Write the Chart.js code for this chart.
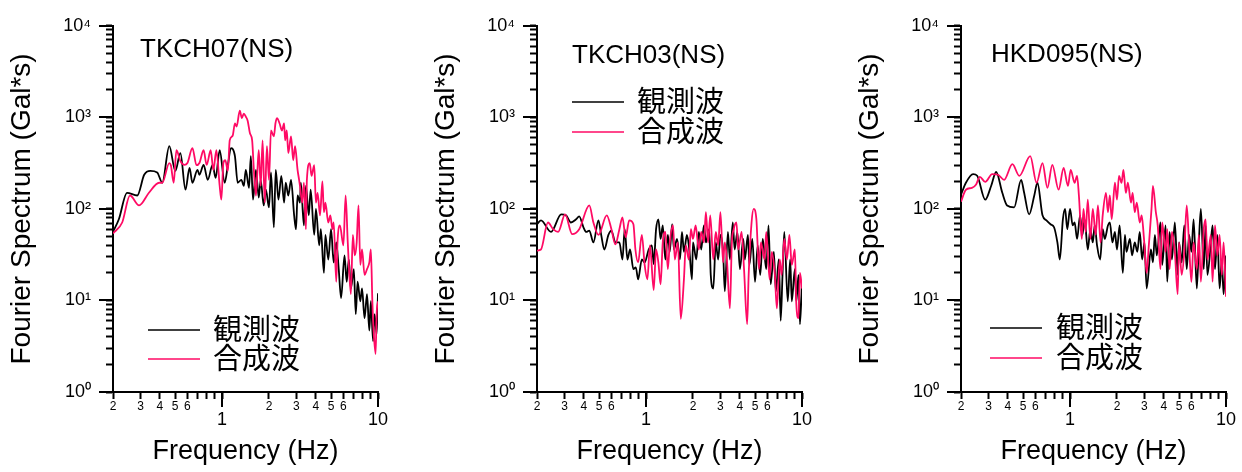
<!DOCTYPE html>
<html><head><meta charset="utf-8">
<script src="https://cdn.jsdelivr.net/npm/chart.js@4.4.1/dist/chart.umd.min.js"></script>
<style>
html,body{margin:0;padding:0;background:#fff;}
#wrap{position:relative;width:1242px;height:472px;overflow:hidden;background:#fff;}
canvas{position:absolute;top:0;}
</style></head><body><div id="wrap">
<canvas id="c0" width="414" height="472" style="left:0px"></canvas>
<canvas id="c1" width="414" height="472" style="left:424px"></canvas>
<canvas id="c2" width="414" height="472" style="left:848px"></canvas>
</div>
<script>
// ---- text ----
const panelTitles = ['TKCH07(NS)', 'TKCH03(NS)', 'HKD095(NS)'];
const seriesNames = ['観測波', '合成波'];
const xAxisTitle = 'Frequency (Hz)';
const yAxisTitle = 'Fourier Spectrum (Gal*s)';

// ---- ticks ----
const xTickValues = [0.2,0.3,0.4,0.5,0.6,0.7,0.8,0.9,1,2,3,4,5,6,7,8,9,10];
const xTickLabels = ['2','3','4','5','6','','','','1','2','3','4','5','6','','','','10'];
const xMajorValues = [1, 10];
const yTickValues = [1,2,3,4,5,6,7,8,9,10,20,30,40,50,60,70,80,90,100,200,300,400,500,600,700,800,900,1000,2000,3000,4000,5000,6000,7000,8000,9000,10000];
const yTickLabels = ['10⁰','','','','','','','','','10¹','','','','','','','','','10²','','','','','','','','','10³','','','','','','','','','10⁴'];
const yMajorValues = [1, 10, 100, 1000, 10000];

// ---- panel 1: TKCH07(NS) ----
const p1ObsF = [0.2,0.218,0.246,0.286,0.317,0.347,0.384,0.414,0.459,0.502,0.541,0.583,0.619,0.646,0.696,0.716,0.762,0.81,0.87,0.91,0.966,1.04,1.09,1.14,1.21,1.26,1.33,1.38,1.42,1.49,1.53,1.58,1.65,1.72,1.77,1.85,1.91,2.0,2.06,2.15,2.21,2.3,2.4,2.5,2.56,2.66,2.77,2.9,2.98,3.05,3.16,3.2,3.35,3.45,3.6,3.7,3.9,4.0,4.2,4.3,4.5,4.6,4.8,5.0,5.2,5.4,5.6,5.8,6.1,6.3,6.5,6.7,7.0,7.2,7.4,7.7,7.9,8.2,8.5,8.8,9.0,9.3,9.5,9.8,10];
const p1ObsV = [56,77,150,140,236,260,250,193,484,260,407,162,280,193,267,236,302,208,302,218,437,193,300,460,377,193,208,178,267,170,377,126,267,133,208,109,162,104,250,63,267,126,230,117,193,140,208,85,60,140,117,193,66,178,85,162,52,100,40,60,20,52,28,60,26,43,22,10.6,31,16,28,13.5,22,7.1,16,9.8,13.5,6.4,11.7,4.7,9.8,3.6,7.1,4.3,12];
const p1SynF = [0.2,0.229,0.257,0.294,0.34,0.395,0.414,0.459,0.47,0.49,0.51,0.541,0.575,0.6,0.646,0.686,0.716,0.762,0.797,0.846,0.88,0.92,0.966,0.99,1.02,1.05,1.09,1.12,1.17,1.21,1.24,1.3,1.34,1.38,1.42,1.46,1.51,1.56,1.6,1.65,1.68,1.72,1.77,1.82,1.88,1.94,2.0,2.06,2.15,2.2,2.25,2.34,2.42,2.5,2.54,2.6,2.66,2.77,2.86,2.94,3.05,3.12,3.16,3.27,3.35,3.45,3.5,3.65,3.75,3.9,4.0,4.1,4.25,4.4,4.5,4.6,4.8,4.95,5.1,5.2,5.4,5.5,5.7,6.0,6.2,6.4,6.7,6.9,7.1,7.3,7.5,7.7,7.9,8.2,8.5,8.8,9.0,9.2,9.4,9.65,9.8,10];
const p1SynV = [54,71,140,109,150,193,193,317,300,193,437,333,302,317,460,300,317,437,302,437,267,437,178,126,317,340,260,561,630,857,794,1183,980,1100,1020,920,670,561,267,140,230,437,178,561,117,484,208,718,620,857,980,857,718,857,561,718,407,620,340,484,267,208,178,117,193,60,208,317,230,300,117,150,85,200,92,117,71,85,60,71,16,43,66,40,140,43,11.7,52,31,43,109,24.5,36,19,22,26,36,9.8,4.3,2.6,7.1,9.8];

// ---- panel 2: TKCH03(NS) ----
const p2ObsF = [0.2,0.212,0.246,0.286,0.307,0.33,0.356,0.373,0.397,0.414,0.433,0.46,0.495,0.516,0.54,0.574,0.6,0.636,0.675,0.706,0.73,0.76,0.79,0.83,0.86,0.89,0.94,0.98,1.04,1.09,1.12,1.16,1.2,1.24,1.28,1.33,1.38,1.42,1.47,1.51,1.58,1.65,1.7,1.75,1.83,1.9,1.97,2.0,2.1,2.18,2.26,2.35,2.42,2.54,2.6,2.7,2.8,2.9,3.0,3.12,3.2,3.35,3.45,3.6,3.7,3.85,4.0,4.2,4.3,4.5,4.6,4.8,5.0,5.2,5.4,5.6,5.9,6.1,6.3,6.6,6.8,7.1,7.3,7.5,7.7,8.1,8.4,8.6,9.0,9.2,9.5,9.7,10];
const p2ObsV = [68,75,56,87,85,71,77,83,63,56,58,43,75,52,36,52,58,43,43,28,60,28,36,22,23,17,28,26,36,40,25,60,77,47,66,28,52,34,68,36,47,28,56,34,52,34,17,43,28,56,36,66,43,60,19,13.5,43,28,52,34,12.6,56,28,71,36,56,22,47,28,52,24.5,47,16,40,19,47,22,66,15,34,12.6,28,6.0,19,56,9.8,28,9.8,22,9.8,19,5.5,16];
const p2SynF = [0.2,0.212,0.235,0.254,0.273,0.303,0.336,0.373,0.433,0.46,0.495,0.56,0.6,0.636,0.675,0.706,0.74,0.78,0.83,0.855,0.89,0.94,0.98,1.02,1.06,1.12,1.16,1.2,1.24,1.28,1.33,1.38,1.42,1.49,1.53,1.6,1.67,1.75,1.8,1.88,1.94,2.0,2.08,2.18,2.26,2.35,2.42,2.5,2.58,2.7,2.8,2.9,3.0,3.12,3.2,3.3,3.45,3.55,3.65,3.8,3.9,4.1,4.25,4.45,4.55,4.75,4.9,5.1,5.3,5.45,5.75,5.9,6.2,6.4,6.7,6.9,7.2,7.4,7.7,8.0,8.3,8.6,9.0,9.2,9.5,9.7,10];
const p2SynV = [35,36,71,60,56,87,53,60,109,71,52,85,60,41,60,81,49,75,68,36,26,52,24.5,17,40,13,36,26,15,43,56,22,43,66,28,43,6.3,17,40,28,60,47,66,36,56,43,92,43,85,28,56,40,92,26,43,28,8.2,43,60,71,36,56,22,5.5,19,71,100,77,22,43,28,56,17,34,19,8.2,28,19,47,28,52,24.5,36,9,6.4,20,13.5];

// ---- panel 3: HKD095(NS) ----
const p3ObsF = [0.2,0.215,0.239,0.254,0.286,0.312,0.336,0.368,0.395,0.438,0.486,0.508,0.547,0.59,0.618,0.666,0.706,0.75,0.79,0.83,0.86,0.9,0.93,0.96,1.0,1.04,1.07,1.11,1.16,1.2,1.24,1.3,1.35,1.4,1.44,1.49,1.56,1.62,1.67,1.75,1.8,1.87,1.94,2.0,2.08,2.18,2.25,2.3,2.42,2.5,2.6,2.7,2.8,2.9,3.0,3.1,3.3,3.4,3.5,3.6,3.8,3.9,4.1,4.2,4.35,4.5,4.7,4.9,5.0,5.2,5.4,5.6,5.8,6.0,6.2,6.5,6.7,6.9,7.2,7.4,7.6,8.0,8.2,8.5,8.8,9.1,9.4,9.65,10];
const p3ObsV = [143,193,240,230,126,178,253,150,109,104,208,150,87,140,193,85,75,68,63,43,28,77,100,60,100,66,71,47,85,52,77,36,60,43,66,40,28,60,47,66,71,43,56,36,66,20,52,34,47,31,43,34,56,28,43,13.5,36,26,52,31,71,24.5,66,16,56,28,71,19,43,26,66,22,52,34,77,13.5,43,100,22,66,19,43,66,22,52,13.5,28,11.7,31];
const p3SynF = [0.2,0.215,0.235,0.25,0.264,0.286,0.317,0.346,0.378,0.427,0.473,0.556,0.61,0.666,0.716,0.77,0.845,0.91,0.97,1.01,1.07,1.11,1.14,1.19,1.22,1.26,1.3,1.35,1.4,1.46,1.51,1.57,1.62,1.7,1.75,1.8,1.85,1.94,2.0,2.06,2.14,2.2,2.28,2.35,2.46,2.52,2.6,2.68,2.8,2.88,2.98,3.1,3.2,3.33,3.4,3.55,3.65,3.8,3.9,4.1,4.2,4.35,4.5,4.7,4.9,5.0,5.2,5.4,5.6,5.8,6.0,6.2,6.5,6.7,6.9,7.2,7.4,7.6,8.0,8.2,8.5,8.8,9.1,9.4,9.65,10];
const p3SynV = [120,162,170,185,224,197,240,236,208,308,230,377,193,317,170,302,162,280,178,267,193,230,140,47,100,56,126,47,100,52,109,43,85,150,92,140,77,193,126,230,193,267,150,193,117,150,92,117,71,85,47,20,40,100,178,92,66,22,71,34,60,22,56,34,11.7,43,19,34,109,40,16,43,22,52,16,60,77,28,52,16,66,31,52,19,43,11];

// ---- styling / layout (not data) ----
const obsColor = '#000000';
const synColor = '#ff0a64';
const latin = '"Liberation Sans", Arial, sans-serif';
const cjk = '"Noto Sans CJK JP", "Noto Sans CJK SC", sans-serif';
const titlePos = [{x: 140, y: 50}, {x: 148, y: 56}, {x: 143, y: 55}];
const legendPos = [{lx: 148, y1: 330, y2: 359, tx: 213}, {lx: 148, y1: 102, y2: 132, tx: 213}, {lx: 142, y1: 328, y2: 358, tx: 208}];

Chart.defaults.font.family = latin;
Chart.defaults.color = '#000';

const panels = [
  {obsF: p1ObsF, obsV: p1ObsV, synF: p1SynF, synV: p1SynV},
  {obsF: p2ObsF, obsV: p2ObsV, synF: p2SynF, synV: p2SynV},
  {obsF: p3ObsF, obsV: p3ObsV, synF: p3SynF, synV: p3SynV}
];

const toPoints = (f, v) => f.map((x, i) => ({x: x, y: v[i]}));

const decoPlugin = {
  id: 'deco',
  afterDraw(chart) {
    const idx = chart.options.plugins.deco.index;
    const ctx = chart.ctx, a = chart.chartArea;
    const xs = chart.scales.x, ys = chart.scales.y;
    ctx.save();
    // longer major tick marks
    ctx.strokeStyle = '#000';
    ctx.lineWidth = 2;
    ctx.beginPath();
    xMajorValues.forEach(v => {
      const p = Math.round(xs.getPixelForValue(v));
      ctx.moveTo(p, a.bottom); ctx.lineTo(p, a.bottom + 15);
    });
    yMajorValues.forEach(v => {
      const p = Math.round(ys.getPixelForValue(v));
      ctx.moveTo(a.left, p); ctx.lineTo(a.left - 14, p);
    });
    ctx.stroke();
    // panel title
    const tp = titlePos[idx];
    ctx.fillStyle = '#000';
    ctx.font = '26px ' + latin;
    ctx.textAlign = 'left';
    ctx.textBaseline = 'middle';
    ctx.fillText(panelTitles[idx], tp.x, tp.y);
    // legend
    const lp = legendPos[idx];
    const rows = [lp.y1, lp.y2];
    chart.data.datasets.slice().sort((d1, d2) => d1.legendIndex - d2.legendIndex).forEach((ds, r) => {
      ctx.strokeStyle = ds.borderColor;
      ctx.lineWidth = 1.6;
      ctx.beginPath();
      ctx.moveTo(lp.lx, rows[r]); ctx.lineTo(lp.lx + 52, rows[r]);
      ctx.stroke();
      ctx.fillStyle = '#000';
      ctx.font = '29px ' + cjk;
      ctx.fillText(ds.label, lp.tx, rows[r] - 1.5);
    });
    ctx.restore();
  }
};

panels.forEach((p, idx) => {
  new Chart(document.getElementById('c' + idx), {
    type: 'line',
    data: {
      datasets: [
        {label: seriesNames[1], legendIndex: 1, data: toPoints(p.synF, p.synV), borderColor: synColor, borderWidth: 1.8, pointRadius: 0, cubicInterpolationMode: 'monotone', order: 0},
        {label: seriesNames[0], legendIndex: 0, data: toPoints(p.obsF, p.obsV), borderColor: obsColor, borderWidth: 1.8, pointRadius: 0, cubicInterpolationMode: 'monotone', order: 1}
      ]
    },
    options: {
      responsive: false,
      animation: false,
      devicePixelRatio: 1,
      layout: {padding: {left: 0, right: 36, top: 21, bottom: 0}},
      plugins: {legend: {display: false}, tooltip: {enabled: false}, deco: {index: idx}},
      scales: {
        x: {
          type: 'logarithmic', min: 0.2, max: 10, position: 'bottom',
          afterBuildTicks: s => { s.ticks = xTickValues.map(v => ({value: v})); },
          afterFit: s => { s.height = 80; },
          grid: {drawOnChartArea: false, drawTicks: true, tickLength: 7, tickWidth: 2, tickColor: '#000'},
          border: {display: true, color: '#000', width: 2},
          ticks: {
            autoSkip: false, maxRotation: 0, minRotation: 0, padding: 2, color: '#000',
            callback: (v, i) => xMajorValues.includes(xTickValues[i]) ? ['', xTickLabels[i]] : xTickLabels[i],
            font: c => (c.tick && xMajorValues.includes(c.tick.value)) ? {size: 18, lineHeight: '13px'} : {size: 12, lineHeight: '12px'}
          },
          title: {display: true, text: xAxisTitle, font: {size: 27}, color: '#000', padding: {top: 0, bottom: 4}}
        },
        y: {
          type: 'logarithmic', min: 1, max: 10000, position: 'left',
          afterBuildTicks: s => { s.ticks = yTickValues.map(v => ({value: v})); },
          afterFit: s => { s.width = 113; },
          grid: {drawOnChartArea: false, drawTicks: true, tickLength: 7, tickWidth: 2, tickColor: '#000'},
          border: {display: true, color: '#000', width: 2},
          ticks: {
            autoSkip: false, padding: 15, color: '#000', font: {size: 18},
            callback: (v, i) => yTickLabels[i]
          },
          title: {display: true, text: yAxisTitle, font: {size: 28}, color: '#000', padding: {top: 5, bottom: 0}}
        }
      }
    },
    plugins: [decoPlugin]
  });
});
</script>
</body></html>
